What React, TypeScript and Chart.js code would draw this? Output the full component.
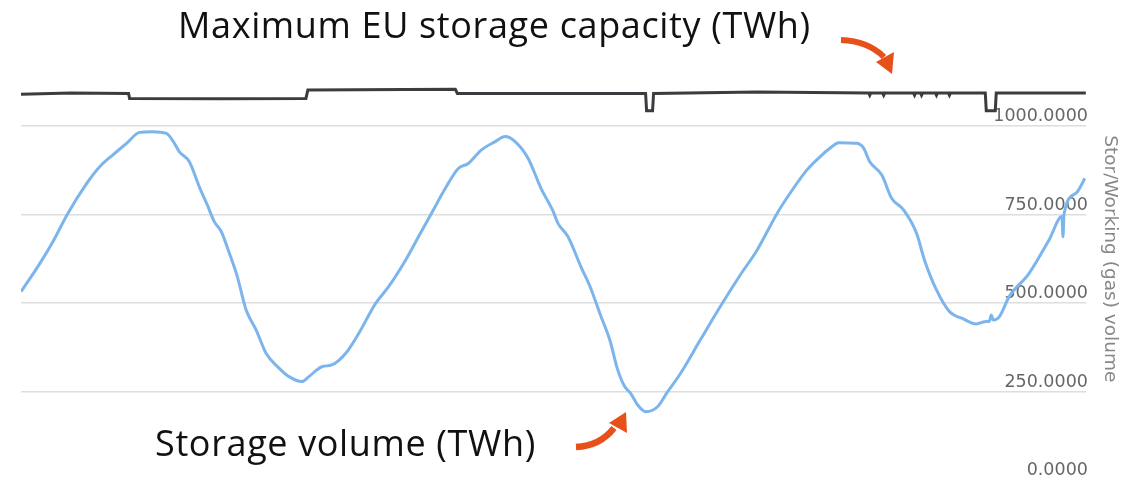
import React, { useEffect, useRef } from "react";
import { Chart, registerables } from "chart.js";

Chart.register(...registerables);

// Day index (0 = left edge of the plot) and working gas volume in TWh
const storageDays = [
  0, 19, 32, 47, 66, 79, 92, 106, 119, 132, 146, 152, 159, 169, 179, 187, 194, 201, 209, 217,
  226, 236, 246, 259, 269, 282, 289, 302, 312, 326, 339, 356, 369, 386, 399, 412, 426, 439, 449, 462,
  476, 486, 496, 509, 522, 534, 539, 549, 562, 572, 581, 591, 599, 606, 612, 619, 627, 639, 649, 662,
  682, 702, 722, 739, 759, 772, 789, 802, 812, 821, 839, 846, 852, 864, 874, 886, 899, 907, 919, 932,
  946, 959, 969, 972, 974, 976, 982, 992, 1012, 1032, 1045, 1046, 1047, 1059, 1068,
];
const storageValues = [
  532, 612, 673, 753, 838, 885, 918, 951, 982, 984, 979, 960, 927, 899, 828, 777, 730, 702, 642, 576,
  480, 424, 358, 316, 292, 278, 292, 320, 325, 358, 414, 499, 546, 621, 687, 753, 824, 880, 894, 932,
  956, 970, 956, 909, 824, 760, 725, 688, 603, 541, 471, 396, 311, 264, 245, 212, 193, 207, 249, 301,
  396, 490, 579, 650, 753, 810, 876, 913, 937, 953, 951, 937, 899, 862, 796, 763, 697, 621, 537, 476,
  455, 441, 448, 448, 466, 452, 461, 518, 584, 678, 744, 687, 750, 810, 852,
];

// Maximum EU storage capacity in TWh
const capacityDays = [
  0, 50, 108, 109, 200, 286, 288, 436, 438, 627, 628, 634, 635, 739,
  851, 852, 853, 865, 866, 867, 896, 897, 898, 903, 904, 905, 918, 919, 920, 931, 932, 933,
  968, 969, 978, 979, 1069,
];
const capacityValues = [
  1090, 1093, 1092, 1078, 1077, 1078, 1102, 1104, 1092, 1092, 1043, 1043, 1092, 1096,
  1093, 1087, 1093, 1093, 1087, 1093, 1093, 1087, 1093, 1093, 1087, 1093, 1093, 1087, 1093, 1093, 1087, 1093,
  1093, 1043, 1043, 1093, 1093,
];

const yTickValues = [0, 250, 500, 750, 1000];
const yAxisTitle = "Stor/Working (gas) volume";
const capacityLabel = "Maximum EU storage capacity (TWh)";
const storageLabel = "Storage volume (TWh)";

export default function App() {
  const canvasRef = useRef<HTMLCanvasElement>(null);

  useEffect(() => {
    document.body.style.margin = "0";
    const canvas = canvasRef.current;
    if (!canvas) return;
    const chart = new Chart(canvas, {
      type: "line",
      data: {
        datasets: [
          {
            label: "Capacity",
            data: capacityDays.map((d, i) => ({ x: d, y: capacityValues[i] })),
            borderColor: "#3c3c40",
            borderWidth: 3,
            pointRadius: 0,
            tension: 0,
          },
          {
            label: "Storage",
            data: storageDays.map((d, i) => ({ x: d, y: storageValues[i] })),
            borderColor: "#7cb5ec",
            borderWidth: 3,
            pointRadius: 0,
            cubicInterpolationMode: "monotone",
          },
        ],
      },
      options: {
        animation: false,
        responsive: true,
        maintainAspectRatio: false,
        layout: { padding: { left: 21, right: 9, top: 37.5, bottom: 20 } },
        plugins: { legend: { display: false }, tooltip: { enabled: false } },
        scales: {
          x: { type: "linear", min: 0, max: 1069, display: false },
          y: {
            position: "right",
            min: 0,
            max: 1250,
            afterBuildTicks: (axis: any) => {
              axis.ticks = yTickValues.map((v) => ({ value: v }));
            },
            border: { display: false },
            grid: { color: "#dedede", lineWidth: 1.5, drawTicks: false },
            ticks: {
              mirror: true,
              padding: 2,
              labelOffset: -9.5,
              color: "#666666",
              font: { family: "DejaVu Sans", size: 17.5 },
              callback: (v: any) => Number(v).toFixed(4),
            },
            title: {
              display: true,
              text: yAxisTitle,
              color: "#888888",
              font: { family: "DejaVu Sans", size: 18.5 },
              padding: { top: 4, bottom: 8.9 },
            },
          },
        },
      },
    });
    return () => chart.destroy();
  }, []);

  const textStyle: React.CSSProperties = {
    position: "absolute",
    fontFamily: "'Open Sans', sans-serif",
    fontSize: 36,
    lineHeight: "36px",
    letterSpacing: "0.64px",
    color: "#111",
    whiteSpace: "nowrap",
  };

  return (
    <div style={{ position: "fixed", left: 0, top: 0, width: 1134, height: 500 }}>
      <canvas ref={canvasRef} />
      <div style={{ ...textStyle, left: 178, top: 7 }}>{capacityLabel}</div>
      <div style={{ ...textStyle, left: 155, top: 425 }}>{storageLabel}</div>
      <svg
        width={1134}
        height={500}
        style={{ position: "absolute", left: 0, top: 0, pointerEvents: "none" }}
      >
        <path d="M841 40 Q868 41 884 57" stroke="#e8501a" strokeWidth={6} fill="none" />
        <polygon points="876,62 894,52 892,74" fill="#e8501a" />
        <path d="M576 447 Q600 446 614 428" stroke="#e8501a" strokeWidth={6.5} fill="none" />
        <polygon points="609,423 626,412 627,433" fill="#e8501a" />
      </svg>
    </div>
  );
}
